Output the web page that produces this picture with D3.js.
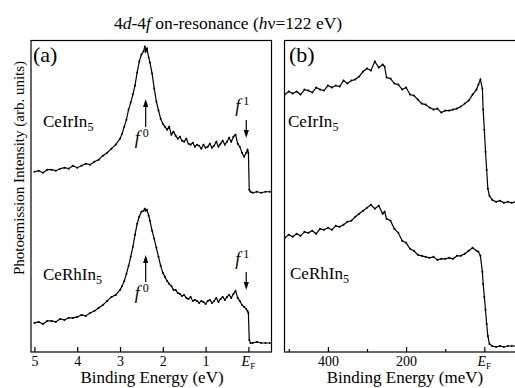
<!DOCTYPE html>
<html>
<head>
<meta charset="utf-8">
<script src="https://cdn.jsdelivr.net/npm/d3@7"></script>
<style>
body { margin: 0; background: #fff; }
svg text { font-family: "Liberation Serif", "Times New Roman", serif; fill: #000; }
</style>
</head>
<body>
<div id="chart"></div>
<script>
// panel (a): binding energy in eV
var energyA = [5.0,4.9,4.8,4.7,4.6,4.5,4.4,4.3,4.2,4.1,4.0,3.9,3.8,3.7,3.6,3.5,3.4,3.3,3.2,3.1,
	3.0,2.95,2.9,2.85,2.8,2.75,2.7,2.65,2.6,2.55,2.5,2.45,2.42,2.4,2.37,2.33,2.3,2.25,2.2,2.15,
	2.1,2.05,2.0,1.95,1.9,1.85,1.8,1.75,1.7,1.65,1.6,1.55,1.5,1.45,1.4,1.35,1.3,1.25,1.2,1.15,
	1.1,1.05,1.0,0.95,0.9,0.85,0.8,0.75,0.7,0.65,0.6,0.55,0.5,0.45,0.4,0.35,0.3,0.25,0.2,0.15,
	0.1,0.05,0.02,0.0,-0.02,-0.05,-0.1,-0.2,-0.3,-0.4,-0.5];
var ceIrIn5A = [180,181,179,182,182,181,183,184,183,186,184,186,188,187,190,192,196,199,203,207,
	213,218,225,232,242,249,257,266,279,290,297,300,305,300,303,294,289,278,263,250,
	241,233,228,225,222,225,217,220,216,213,215,211,210,213,208,207,209,205,207,206,
	203,207,204,205,208,204,206,210,205,208,211,207,210,214,210,215,217,208,205,199,
	195,199,202,199,162,160,159,160,159,160,160];
var ceRhIn5A = [29,30,28,31,31,30,33,32,34,34,35,37,36,39,41,44,47,51,55,57,
	62,66,71,78,86,95,105,117,128,135,140,141,143,141,142,136,131,121,113,104,
	95,86,79,75,71,68,66,62,62,59,58,56,57,54,53,55,51,52,51,49,
	51,50,48,51,52,49,51,54,50,53,55,52,55,57,54,58,61,54,51,47,
	45,43,41,39,12,9,9,10,9,9,9];

// panel (b): binding energy in meV
var energyB = [510,500,490,480,470,460,450,440,430,420,410,400,390,380,370,360,350,340,330,320,
	310,300,290,280,270,260,255,250,240,230,220,210,200,190,180,170,160,150,140,130,
	120,110,100,90,80,70,60,50,40,30,20,15,10,5,3,0,-3,-6,-9,-13,
	-20,-30,-40,-50,-60,-70,-80];
var ceIrIn5B = [257,260,258,260,257,262,261,259,264,262,261,266,264,266,265,271,268,271,272,275,
	280,283,281,290,284,287,285,274,273,268,267,262,264,257,256,252,248,247,244,242,
	243,239,241,241,242,243,245,248,251,257,262,267,272,263,242,222,200,182,163,156,
	152,150,151,149,150,149,150];
var ceRhIn5B = [114,117,115,118,116,120,119,121,118,123,122,124,122,126,125,127,130,131,135,138,
	141,144,147,143,146,138,140,133,131,123,119,111,109,103,101,97,96,95,94,95,
	92,93,93,94,93,96,96,98,101,104,101,100,96,80,68,55,42,28,16,8,
	6,5,6,5,6,6,6];

var ticksA = [5, 4, 3, 2, 1, 0];
var ticksB = [400, 200, 0];
var minorTicksB = [500, 300, 100];

var width = 515;
var height = 388;
var plotTop = 40.5;
var plotBottom = 352;

var svg = d3.select('#chart')
	.append('svg')
	.attr('width', width)
	.attr('height', height)
	.attr('font-family', '"Liberation Serif", serif');

var y = d3.scaleLinear().domain([0, 311]).range([plotBottom, plotTop]);
var xA = d3.scaleLinear().domain([5.08, -0.54]).range([31, 271.5]);
var xB = d3.scaleLinear().domain([511, -81]).range([284.5, 516]);

function zip(xs, ys) {
	return xs.map(function(d, i) { return [d, ys[i]]; });
}

// frames
[xA, xB].forEach(function(x) {
	svg.append('rect')
		.attr('x', x.range()[0])
		.attr('y', plotTop)
		.attr('width', x.range()[1] - x.range()[0])
		.attr('height', plotBottom - plotTop)
		.attr('fill', 'none')
		.attr('stroke', '#000')
		.attr('stroke-width', 1.2);
});

// axes with inward ticks
function drawAxis(x, ticks, size, withLabels) {
	var g = svg.append('g')
		.attr('transform', 'translate(0,' + plotBottom + ')')
		.call(d3.axisBottom(x)
			.tickValues(ticks)
			.tickSizeInner(-size)
			.tickSizeOuter(0)
			.tickPadding(4)
			.tickFormat(function(d) { return withLabels && d !== 0 ? d : ''; }));
	g.select('.domain').remove();
	g.attr('font-family', '"Liberation Serif", serif');
	g.selectAll('line').attr('stroke-width', 1.2);
	g.selectAll('text').attr('font-size', 14);
	if (withLabels) {
		var ef = g.append('text')
			.attr('x', x(0))
			.attr('y', 14)
			.attr('text-anchor', 'middle')
			.attr('font-size', 14);
		ef.append('tspan').attr('font-style', 'italic').text('E');
		ef.append('tspan').attr('font-size', 9).attr('dy', 3).text('F');
	}
}
drawAxis(xA, ticksA, 5, true);
drawAxis(xB, ticksB, 5, true);
drawAxis(xB, minorTicksB, 3, false);

// spectra
svg.append('clipPath').attr('id', 'clipB')
	.append('rect').attr('x', 284.5).attr('y', plotTop).attr('width', 231.5).attr('height', plotBottom - plotTop);

function drawCurve(x, data, clipId) {
	var g = svg.append('g');
	if (clipId) g.attr('clip-path', 'url(#' + clipId + ')');
	var line = d3.line().x(function(d) { return x(d[0]); }).y(function(d) { return y(d[1]); });
	g.append('path')
		.datum(data)
		.attr('d', line)
		.attr('fill', 'none')
		.attr('stroke', '#000')
		.attr('stroke-width', 1.2);
	g.selectAll('circle')
		.data(data)
		.enter()
		.append('circle')
		.attr('cx', function(d) { return x(d[0]); })
		.attr('cy', function(d) { return y(d[1]); })
		.attr('r', 1)
		.attr('fill', '#000');
}
drawCurve(xA, zip(energyA, ceIrIn5A));
drawCurve(xA, zip(energyA, ceRhIn5A));
drawCurve(xB, zip(energyB, ceIrIn5B), 'clipB');
drawCurve(xB, zip(energyB, ceRhIn5B), 'clipB');

// title
var title = svg.append('text')
	.attr('x', 228)
	.attr('y', 29)
	.attr('text-anchor', 'middle')
	.attr('font-size', 17.5);
title.append('tspan').text('4');
title.append('tspan').attr('font-style', 'italic').text('d');
title.append('tspan').text('-4');
title.append('tspan').attr('font-style', 'italic').text('f');
title.append('tspan').text(' on-resonance (');
title.append('tspan').attr('font-style', 'italic').text('h');
title.append('tspan').text('\u03bd=122 eV)');

// panel labels
svg.append('text').attr('x', 33).attr('y', 62).attr('font-size', 22).text('(a)');
svg.append('text').attr('x', 289).attr('y', 62).attr('font-size', 22).text('(b)');

// compound labels
function compound(x0, y0, name) {
	var t = svg.append('text').attr('x', x0).attr('y', y0).attr('font-size', 17);
	t.append('tspan').text(name);
	t.append('tspan').attr('font-size', 12).attr('dy', 4).text('5');
}
compound(43, 127, 'CeIrIn');
compound(43, 280, 'CeRhIn');
compound(288, 127, 'CeIrIn');
compound(290, 279, 'CeRhIn');

// f0 / f1 arrows
function arrow(x0, y1, y2) {
	// y1 = tail, y2 = tip
	var dir = y2 < y1 ? 1 : -1;
	svg.append('line')
		.attr('x1', x0).attr('x2', x0)
		.attr('y1', y1).attr('y2', y2 + dir * 5)
		.attr('stroke', '#000').attr('stroke-width', 1.2);
	svg.append('path')
		.attr('d', 'M' + x0 + ',' + y2 + 'L' + (x0 - 2.6) + ',' + (y2 + dir * 8) +
			'L' + (x0 + 2.6) + ',' + (y2 + dir * 8) + 'Z')
		.attr('fill', '#000');
}
function fLabel(x0, y0, sup) {
	var t = svg.append('text').attr('x', x0).attr('y', y0).attr('font-size', 18);
	t.append('tspan').attr('font-style', 'italic').text('f');
	t.append('tspan').attr('font-size', 12).attr('dx', 3).attr('dy', -7).text(sup);
}
arrow(xA(2.4), 127, 99);
fLabel(xA(2.4) - 11, 144, '0');
arrow(xA(0.05), 120, 138);
fLabel(xA(0.05) - 11, 112, '1');

arrow(xA(2.4), 282, 255);
fLabel(xA(2.4) - 11, 299, '0');
arrow(xA(0.05), 272, 290);
fLabel(xA(0.05) - 11, 265, '1');

// axis titles
svg.append('text')
	.attr('x', 152).attr('y', 383)
	.attr('text-anchor', 'middle')
	.attr('font-size', 17)
	.text('Binding Energy (eV)');
svg.append('text')
	.attr('x', 405).attr('y', 383)
	.attr('text-anchor', 'middle')
	.attr('font-size', 17)
	.text('Binding Energy (meV)');
svg.append('text')
	.attr('transform', 'translate(24,168) rotate(-90)')
	.attr('text-anchor', 'middle')
	.attr('font-size', 15)
	.text('Photoemission Intensity (arb. units)');
</script>
</body>
</html>
